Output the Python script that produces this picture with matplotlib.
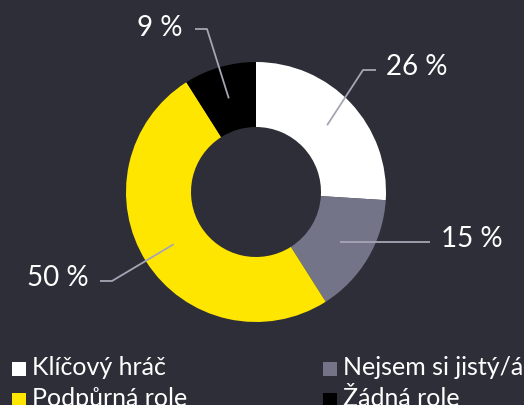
import numpy as np
import matplotlib
matplotlib.use("Agg")
import matplotlib.pyplot as plt

# data
categories = ["Klíčový hráč", "Nejsem si jistý/á", "Podpůrná role", "Žádná role"]
values = [26, 15, 50, 9]
colors = ["#ffffff", "#747489", "#ffe600", "#000000"]

bg = "#2e2e38"
line_col = "#a5a5b5"
W, H = 524, 406
plt.rcParams["font.family"] = ["Lato", "DejaVu Sans"]

fig = plt.figure(figsize=(W / 100, H / 100), dpi=100, facecolor=bg)
ax = fig.add_axes([0, 0, 1, 1])
ax.set_facecolor(bg)

cx, cy, R = 256, H - 193, 130
wedges, _ = ax.pie(values, colors=colors, startangle=90, counterclock=False,
                   center=(cx, cy), radius=R, frame=True,
                   wedgeprops=dict(width=R * 0.5, linewidth=0))
ax.set_xlim(0, W)
ax.set_ylim(0, H)
ax.set_aspect("equal")
ax.set_axis_off()

# label layout (pixel coords from top): elbow x, elbow y, line end x, text x, baseline y, ha
label_layout = [
    (363, 71, 376, 386, 75, "left"),
    (None, None, 430, 441, 247, "left"),
    (112, 282, 100, 89, 286, "right"),
    (207, 30, 195, 182, 36, "right"),
]

for w, v, (ex, ey, lx, tx, ty, ha) in zip(wedges, values, label_layout):
    ang = np.deg2rad((w.theta1 + w.theta2) / 2)
    px = cx + R * 0.75 * np.cos(ang)
    py = cy + R * 0.75 * np.sin(ang)
    if ex is None:
        xs, ys = [px, lx], [py, py]
    else:
        xs, ys = [px, ex, lx], [py, H - ey, H - ey]
    ax.plot(xs, ys, color=line_col, lw=1.3, solid_capstyle="butt")
    ax.text(tx, H - ty, f"{v} %", color="white", fontsize=20,
            ha=ha, va="baseline")

# legend, two columns filled row by row
for i, (cat, col) in enumerate(zip(categories, colors)):
    row, c = divmod(i, 2)
    sq_x = 12 if c == 0 else 323
    base = 375 + 31 * row
    ax.scatter([sq_x + 6.5], [H - base + 5], marker="s", s=95,
               color=col, linewidths=0)
    ax.text(sq_x + 20, H - base, cat, color="white", fontsize=18,
            ha="left", va="baseline")

fig.savefig("out.png", dpi=100, facecolor=bg)
